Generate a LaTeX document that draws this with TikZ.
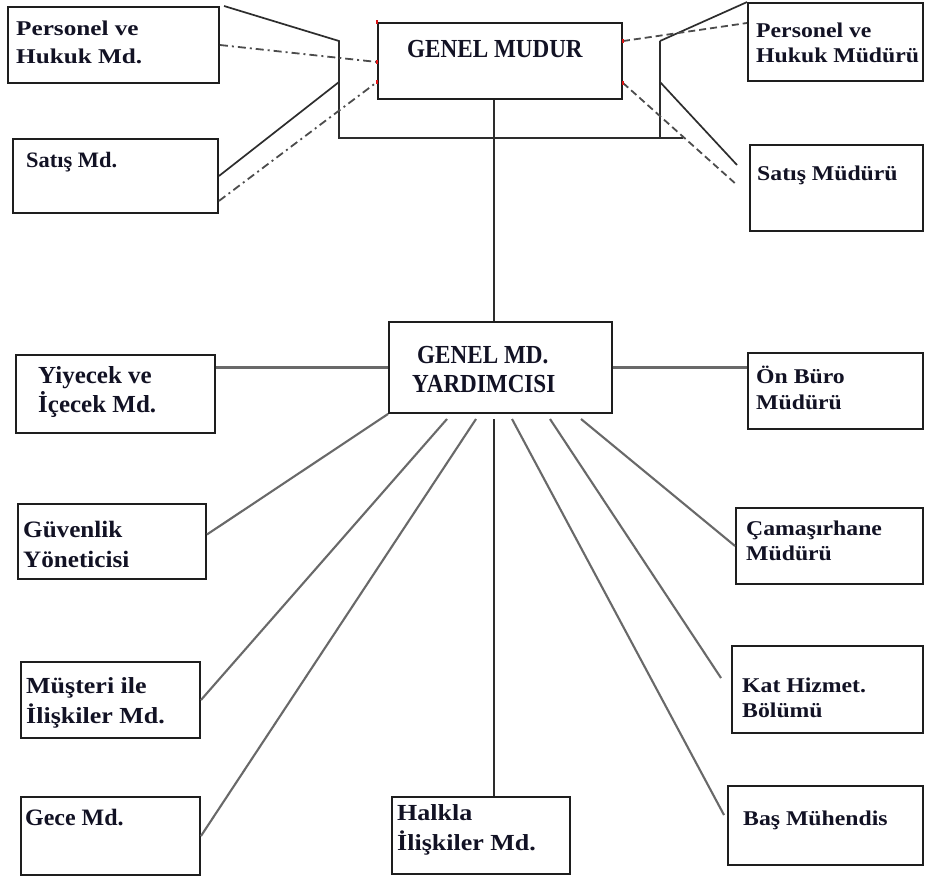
\documentclass[tikz,border=0pt]{standalone}
\usepackage{fontspec}
\setmainfont{Liberation Serif}
\newfontfamily\fcond{Liberation Serif}[FakeStretch=0.89]
\newfontfamily\fplain{Liberation Serif}[FakeStretch=1.02]
\newfontfamily\fsome{Liberation Serif}[FakeStretch=1.07]
\newfontfamily\fwide{Liberation Serif}[FakeStretch=1.13]
\newfontfamily\fwider{Liberation Serif}[FakeStretch=1.2]
\usetikzlibrary{calc}
\definecolor{ink}{RGB}{18,18,36}
\definecolor{edge}{RGB}{30,30,30}
\definecolor{wire}{RGB}{105,105,105}
\definecolor{dark}{RGB}{45,45,45}
\definecolor{tick}{RGB}{220,20,20}
% two stacked lines, baseline of the node = baseline of the first line
\newcommand\twoline[3]{\vtop{\baselineskip=#1pt\lineskiplimit=-200pt\lineskip=0pt\hbox{#2}\hbox{#3}}}
\begin{document}
\begin{tikzpicture}[x=1pt,y=-1pt,
  box/.style={draw=edge,line width=1.9pt,inner sep=0pt,fill=white},
  lbl/.style={anchor=base west,inner sep=0pt,text=ink},
  bracket/.style={draw=dark,line width=1.7pt},
  stem/.style={draw=dark,line width=1.9pt},
  wireline/.style={draw=wire,line width=2.1pt},
  dashdot/.style={draw=dark!85,line width=1.8pt,dash pattern=on 8pt off 4pt on 2pt off 4pt},
  dashline/.style={draw=dark!85,line width=1.8pt,dash pattern=on 7pt off 4pt},
  redtick/.style={fill=tick},
  sz21/.style={font={\fwide\bfseries\fontsize{21}{25}\selectfont}},
  sz23/.style={font={\fwide\bfseries\fontsize{23}{30}\selectfont}},
  big/.style={font={\fcond\bfseries\fontsize{26}{29}\selectfont}}]
\clip (0,0) rectangle (925,880);
\fill[white] (0,0) rectangle (925,880);

% ---- boxes ----
\node[box,minimum width=211pt,minimum height=76pt] (pl) at (113.5,45) {};
\node[box,minimum width=205pt,minimum height=74pt] (sl) at (115.5,176) {};
\node[box,minimum width=244pt,minimum height=76pt] (gm) at (500,61) {};
\node[box,minimum width=175pt,minimum height=78pt] (pr) at (835.5,42) {};
\node[box,minimum width=173pt,minimum height=86pt] (sr) at (836.5,188) {};
\node[box,minimum width=223pt,minimum height=91pt] (gy) at (500.5,367.5) {};
\node[box,minimum width=199pt,minimum height=78pt] (yi) at (115.5,394) {};
\node[box,minimum width=175pt,minimum height=76pt] (ob) at (835.5,391) {};
\node[box,minimum width=188pt,minimum height=75pt] (gv) at (112,541.5) {};
\node[box,minimum width=187pt,minimum height=76pt] (cm) at (829.5,546) {};
\node[box,minimum width=179pt,minimum height=76pt] (mu) at (110.5,700) {};
\node[box,minimum width=191pt,minimum height=87pt] (kh) at (827.5,689.5) {};
\node[box,minimum width=179pt,minimum height=78pt] (ge) at (110.5,836) {};
\node[box,minimum width=178pt,minimum height=77pt] (hk) at (481,835.5) {};
\node[box,minimum width=195pt,minimum height=79pt] (bm) at (825.5,825.5) {};

% ---- bracket around the general manager ----
\coordinate (bl0) at (224,6);
\coordinate (bl1) at (339,41);
\coordinate (bl2) at (339,138);
\coordinate (bl4) at (339,82);
\coordinate (br1) at (660,41);
\coordinate (br2) at (660,138);
\coordinate (br3) at (683,138);
\coordinate (br4) at (660,82);
\coordinate (br5) at (737,165);
\draw[bracket] (bl0) -- (bl1) -- (bl2) -- (br3);
\draw[bracket] (br1) -- (br2);
\draw[bracket] (br1) -- (pr.north west);
\draw[bracket] (bl4) -- (sl.east);
\draw[bracket] (br4) -- (br5);

% ---- staff links ----
\coordinate (gmA) at ($(gm.west)+(0,1)$);
\coordinate (gmB) at ($(gm.west)+(0,21)$);
\coordinate (gmC) at ($(gm.north east)+(0,19)$);
\coordinate (gmD) at ($(gm.south east)+(0,-17)$);
\coordinate (slB) at ($(sl.south east)+(0,-13)$);
\coordinate (prB) at ($(pr.west)+(0,-19)$);
\coordinate (dr2) at (737,185);
\draw[dashdot] (pl.east) -- (gmA);
\draw[dashdot] (slB) -- (gmB);
\draw[dashline] (gmC) -- (prB);
\draw[dashline] (gmD) -- (dr2);

% small marks on the general manager box
\path[redtick] (gm.north west) ++(-1.2,-1.8) rectangle ++(2.4,3.6);
\path[redtick] (gmA) ++(-1.2,-1.8) rectangle ++(2.4,3.6);
\path[redtick] (gmB) ++(-1.2,-1.8) rectangle ++(2.4,3.6);
\path[redtick] (gmC) ++(-1.2,-1.8) rectangle ++(2.4,3.6);
\path[redtick] (gmD) ++(-1.2,-1.8) rectangle ++(2.4,3.6);

% ---- line of command ----
\coordinate (gmS) at ($(gm.south)+(-6,0)$);
\coordinate (gyN) at (gmS |- gy.north);
\coordinate (gvE) at ($(gv.east)+(0,-7)$);
\draw[stem] (gmS) -- (gyN);
\draw[wireline] (yi.east |- gy.west) -- (gy.west);
\draw[wireline] (gy.east) -- (gy.east -| ob.west);
\draw[wireline] (gy.south west) -- (gvE);

\coordinate (f1) at (447,419);
\coordinate (f2) at (476,419);
\coordinate (f3) at (494,419);
\coordinate (f4) at (512,419);
\coordinate (f5) at (550,419);
\coordinate (f6) at (581,419);
\coordinate (kend) at (721,678);
\coordinate (bend) at (724,815);
\draw[wireline] (f1) -- (mu.east);
\draw[wireline] (f2) -- (ge.east);
\draw[stem] (f3) -- (f3 |- hk.north);
\draw[wireline] (f4) -- (bend);
\draw[wireline] (f5) -- (kend);
\draw[wireline] (f6) -- (cm.west);

% ---- labels ----
\node[lbl,font={\fwider\bfseries\fontsize{21}{28}\selectfont}] (pl-t) at (16,36) {\twoline{28}{Personel ve}{Hukuk Md.}};
\node[lbl,font={\fplain\bfseries\fontsize{22}{26}\selectfont}] (sl-t) at (26,167) {Satış Md.};
\node[lbl,big] (gm-t) at (407,58) {GENEL MUDUR};
\node[lbl,sz21] (pr-t) at (756,38) {\twoline{25}{Personel ve}{Hukuk Müdürü}};
\node[lbl,sz21] (sr-t) at (757,180) {Satış Müdürü};
\node[lbl,big] (gy-t) at (412,363) {\twoline{29}{\hspace{5pt}GENEL MD.}{YARDIMCISI}};
\node[lbl,font={\fplain\bfseries\fontsize{24.5}{29}\selectfont}] (yi-t) at (38,383) {\twoline{29}{Yiyecek ve}{İçecek Md.}};
\node[lbl,sz21] (ob-t) at (756,383) {\twoline{26}{Ön Büro}{Müdürü}};
\node[lbl,font={\fsome\bfseries\fontsize{23.5}{30}\selectfont}] (gv-t) at (23,537) {\twoline{30}{Güvenlik}{Yöneticisi}};
\node[lbl,sz21] (cm-t) at (746,535) {\twoline{25}{Çamaşırhane}{Müdürü}};
\node[lbl,sz23] (mu-t) at (26,693) {\twoline{30}{Müşteri ile}{İlişkiler Md.}};
\node[lbl,sz21] (kh-t) at (742,692) {\twoline{25}{Kat Hizmet.}{Bölümü}};
\node[lbl,font={\fplain\bfseries\fontsize{23.5}{30}\selectfont}] (ge-t) at (25,825) {Gece Md.};
\node[lbl,sz23] (hk-t) at (397,820) {\twoline{30}{Halkla}{İlişkiler Md.}};
\node[lbl,sz21] (bm-t) at (743,825) {Baş Mühendis};
\end{tikzpicture}
\end{document}
